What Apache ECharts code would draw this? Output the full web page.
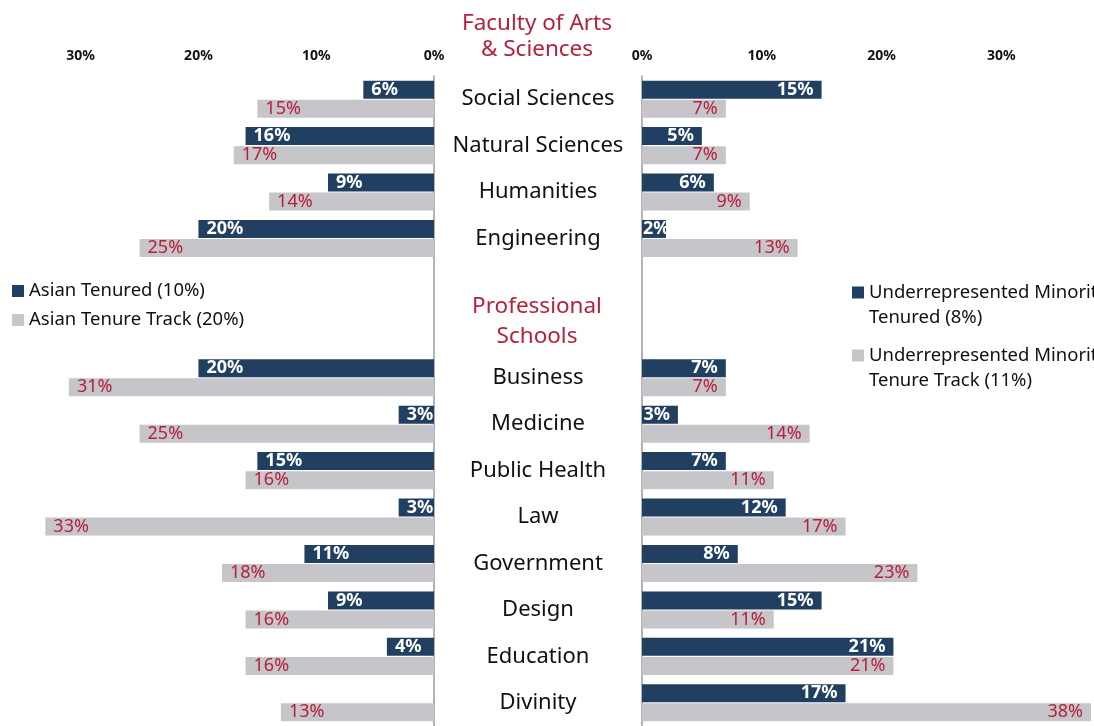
<!DOCTYPE html>
<html lang="en">
<head>
  <meta charset="UTF-8">
  <script src="https://cdn.jsdelivr.net/npm/echarts@6/dist/echarts.min.js"></script>
  <style>
    html, body { margin: 0; padding: 0; background: #fff; }
  </style>
</head>
<body>
  <div id="main" style="width: 1094px;height:726px;"></div>
  <script type="text/javascript">
    // rows, top to bottom (two blank slots for the "Professional Schools" heading)
    const categories = ['Social Sciences', 'Natural Sciences', 'Humanities', 'Engineering', ' ', '  ',
      'Business', 'Medicine', 'Public Health', 'Law', 'Government', 'Design', 'Education', 'Divinity'];
    const asianTenured = [6, 16, 9, 20, null, null, 20, 3, 15, 3, 11, 9, 4, null];
    const asianTrack = [15, 17, 14, 25, null, null, 31, 25, 16, 33, 18, 16, 16, 13];
    const urmTenured = [15, 5, 6, 2, null, null, 7, 3, 7, 12, 8, 15, 21, 17];
    const urmTrack = [7, 7, 9, 13, null, null, 7, 14, 11, 17, 23, 11, 21, 38];
    const tickLabels = [0, 10, 20, 30];

    const navy = '#213f61';
    const gray = '#c6c5ca';
    const red = '#b5213d';
    const font = 'Noto Sans';

    const myChart = echarts.init(document.getElementById('main'));

    function pctTick(v) {
      return tickLabels.indexOf(v) >= 0 ? v + '%' : '';
    }

    const xCommon = {
      type: 'value', min: 0, interval: 10, position: 'top',
      axisLine: { show: false }, axisTick: { show: false }, splitLine: { show: false },
      axisLabel: { formatter: pctTick, color: '#111', fontWeight: 'bold', fontSize: 14, fontFamily: font, margin: 13 }
    };

    const darkLabel = { show: true, formatter: '{c}%', color: '#fff', fontWeight: 'bold', fontSize: 18, fontFamily: font, distance: 8 };
    const grayLabel = { show: true, formatter: '{c}%', color: red, fontSize: 18, fontFamily: font, distance: 8 };

    const option = {
      animation: false,
      title: [
        { text: 'Faculty of Arts\n& Sciences', left: 537, top: 11, padding: 0, textAlign: 'center',
          textStyle: { color: red, fontSize: 22.5, lineHeight: 26, fontWeight: 'normal', fontFamily: font } },
        { text: 'Professional\nSchools', left: 537, top: 292, padding: 0, textAlign: 'center',
          textStyle: { color: red, fontSize: 22.5, lineHeight: 30, fontWeight: 'normal', fontFamily: font } }
      ],
      legend: [
        { data: ['Asian Tenured (10%)', 'Asian Tenure Track (20%)'], orient: 'vertical', left: 12, top: 281,
          padding: 0, itemWidth: 12, itemHeight: 12, itemGap: 9, icon: 'rect',
          textStyle: { fontSize: 18.5, lineHeight: 20, color: '#111', fontFamily: font } },
        { data: ['Underrepresented Minority\nTenured (8%)', 'Underrepresented Minority\nTenure Track (11%)'],
          orient: 'vertical', left: 852, top: 255, padding: 0, itemWidth: 12, itemHeight: 12, itemGap: -12, icon: 'rect',
          // leading blank line keeps the square beside the first line of text
          formatter: name => '\n' + name,
          textStyle: { fontSize: 18.5, lineHeight: 25, color: '#111', fontFamily: font } }
      ],
      grid: [
        { left: 10, width: 424, top: 76, height: 654, containLabel: false },
        { left: 642, width: 452, top: 76, height: 654, containLabel: false }
      ],
      xAxis: [
        Object.assign({}, xCommon, { gridIndex: 0, inverse: true, max: 36 }),
        Object.assign({}, xCommon, { gridIndex: 1, max: 37.5 })
      ],
      yAxis: [
        { type: 'category', gridIndex: 0, inverse: true, data: categories, position: 'right',
          axisLine: { lineStyle: { color: '#9a9a9a', width: 1.5 } }, axisTick: { show: false }, axisLabel: { show: false } },
        { type: 'category', gridIndex: 1, inverse: true, data: categories, position: 'left',
          axisLine: { lineStyle: { color: '#9a9a9a', width: 1.5 } }, axisTick: { show: false },
          axisLabel: { align: 'center', margin: 104, fontSize: 22, color: '#111', fontFamily: font, padding: [0, 0, 8, 0] } }
      ],
      series: [
        { name: 'Asian Tenured (10%)', type: 'bar', xAxisIndex: 0, yAxisIndex: 0, data: asianTenured,
          barWidth: 18, barGap: '6%', itemStyle: { color: navy },
          label: Object.assign({ position: 'insideLeft' }, darkLabel) },
        { name: 'Asian Tenure Track (20%)', type: 'bar', xAxisIndex: 0, yAxisIndex: 0, data: asianTrack,
          barWidth: 18, barGap: '6%', itemStyle: { color: gray },
          label: Object.assign({ position: 'insideLeft' }, grayLabel) },
        { name: 'Underrepresented Minority\nTenured (8%)', type: 'bar', xAxisIndex: 1, yAxisIndex: 1,
          data: urmTenured.map(v => (v !== null && v < 3) ? { value: v, label: { position: 'insideLeft', distance: 1 } } : v),
          barWidth: 18, barGap: '6%', itemStyle: { color: navy },
          label: Object.assign({ position: 'insideRight' }, darkLabel) },
        { name: 'Underrepresented Minority\nTenure Track (11%)', type: 'bar', xAxisIndex: 1, yAxisIndex: 1, data: urmTrack,
          barWidth: 18, barGap: '6%', itemStyle: { color: gray },
          label: Object.assign({ position: 'insideRight' }, grayLabel) }
      ]
    };

    myChart.setOption(option);
  </script>
</body>
</html>
